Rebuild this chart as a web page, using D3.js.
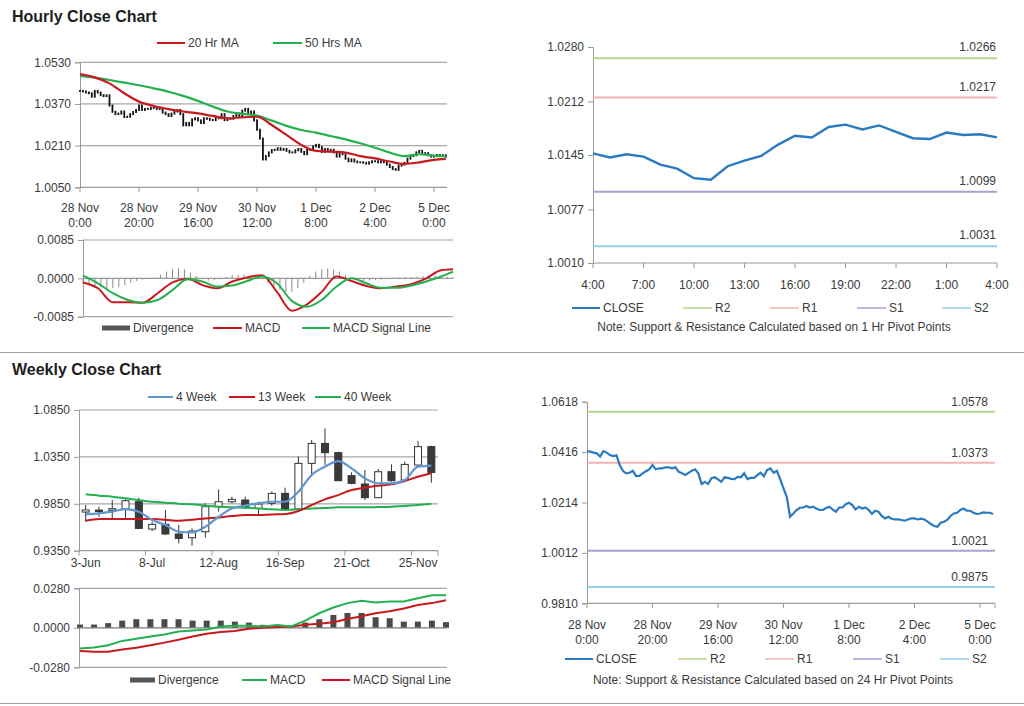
<!DOCTYPE html>
<html><head><meta charset="utf-8">
<script src="https://cdn.jsdelivr.net/npm/d3@7"></script>
<style>body{margin:0;background:#fff}svg{display:block;font-family:"Liberation Sans",Arial,sans-serif}</style>
</head><body><svg id="c" width="1024" height="706"></svg>
<script>
// ---------------- DATA ----------------
// Hourly closes, 28 Nov 0:00 onward (one per hour)
const hourlyClose = [1.0420,1.0418,1.0414,1.0411,1.0398,1.0420,1.0414,1.0404,1.0400,1.0403,
1.0364,1.0340,1.0331,1.0333,1.0341,1.0320,1.0321,1.0331,1.0339,1.0347,
1.0364,1.0347,1.0351,1.0351,1.0355,1.0355,1.0351,1.0355,1.0337,1.0331,
1.0324,1.0333,1.0341,1.0347,1.0331,1.0288,1.0297,1.0288,1.0311,1.0315,
1.0307,1.0297,1.0315,1.0313,1.0309,1.0308,1.0317,1.0315,1.0331,1.0308,
1.0313,1.0313,1.0324,1.0333,1.0319,1.0344,1.0351,1.0333,1.0341,1.0307,
1.0271,1.0237,1.0157,1.0170,1.0184,1.0193,1.0194,1.0200,1.0194,1.0197,
1.0190,1.0184,1.0184,1.0192,1.0197,1.0186,1.0177,1.0194,1.0194,1.0207,
1.0213,1.0204,1.0186,1.0197,1.0190,1.0194,1.0184,1.0168,1.0181,1.0177,
1.0160,1.0150,1.0157,1.0149,1.0146,1.0146,1.0144,1.0141,1.0146,1.0150,
1.0150,1.0146,1.0149,1.0146,1.0137,1.0128,1.0120,1.0117,1.0133,1.0137,
1.0144,1.0160,1.0170,1.0173,1.0184,1.0190,1.0181,1.0181,1.0173,1.0168,
1.0170,1.0174,1.0173,1.0173,1.0168];
const hourTicks = [0,20,40,60,80,100,120];
const hourTickLabels = [["28 Nov","0:00"],["28 Nov","20:00"],["29 Nov","16:00"],["30 Nov","12:00"],["1 Dec","8:00"],["2 Dec","4:00"],["5 Dec","0:00"]];
const hourlyYTicks = [1.0050,1.0210,1.0370,1.0530];

// Moving averages sampled at these hours
const maHours = [0,5,10,15,20,25,30,35,40,45,50,55,60,65,70,75,80,85,90,95,100,105,110,115,120,124];
const ma20 = [1.0485,1.0472,1.0449,1.0411,1.0379,1.0362,1.0350,1.0341,1.0334,1.0324,1.0315,1.0319,1.0321,1.0289,1.0251,1.0213,1.0190,1.0187,1.0183,1.0170,1.0161,1.0149,1.0140,1.0146,1.0155,1.0159];
const ma50 = [1.0478,1.0471,1.0462,1.0452,1.0442,1.0430,1.0417,1.0401,1.0382,1.0360,1.0341,1.0332,1.0325,1.0306,1.0286,1.0270,1.0260,1.0247,1.0234,1.0219,1.0202,1.0183,1.0170,1.0177,1.0172,1.0170];

// Hourly MACD (sampled at maHours)
const hMacd = [-0.0009,-0.0022,-0.0053,-0.0053,-0.0054,-0.0033,-0.0009,-0.0001,-0.0015,-0.0022,-0.0007,0.0002,0.0007,-0.0030,-0.0072,-0.0058,-0.0030,0.0004,-0.0006,-0.0017,-0.0022,-0.0018,-0.0013,0.0000,0.0018,0.0020];
const hSignal = [0.0006,-0.0011,-0.0033,-0.0048,-0.0054,-0.0048,-0.0026,-0.0002,-0.0007,-0.0018,-0.0016,-0.0006,0.0004,-0.0011,-0.0050,-0.0063,-0.0048,-0.0018,0.0000,-0.0011,-0.0021,-0.0021,-0.0016,-0.0007,0.0004,0.0015];
// Divergence every 2 hours
const hDiv = [-0.0012,-0.0015,-0.0017,-0.0020,-0.0022,-0.0022,-0.0020,-0.0015,-0.0010,-0.0006,
-0.0003,-0.0001,0.0002,0.0008,0.0015,0.0020,0.0022,0.0020,0.0012,0.0005,
-0.0002,-0.0005,-0.0004,-0.0002,0.0003,0.0007,0.0008,0.0008,0.0006,0.0003,
-0.0002,-0.0010,-0.0018,-0.0025,-0.0030,-0.0030,-0.0022,-0.0010,0.0005,0.0015,
0.0020,0.0022,0.0020,0.0015,0.0008,0.0002,-0.0004,-0.0006,-0.0005,-0.0004,
-0.0003,-0.0002,0.0001,0.0002,0.0003,0.0003,0.0004,0.0005,0.0006,0.0006,
0.0005,0.0004,0.0003];
const hMacdTicks = [-0.0085,0.0000,0.0085];

// Intraday (1 Hr pivots) closes, 4:00 to 4:00
const intradayClose = [1.0147,1.0142,1.0146,1.0143,1.0133,1.0128,1.0116,1.0114,1.0131,1.0138,1.0144,1.0158,1.0169,1.0167,1.0180,1.0183,1.0177,1.0182,1.0174,1.0166,1.0165,1.0173,1.0170,1.0171,1.0167];
const intradayTicks = [0,3,6,9,12,15,18,21,24];
const intradayTickLabels = ["4:00","7:00","10:00","13:00","16:00","19:00","22:00","1:00","4:00"];
const intradayYTicks = [1.0010,1.0077,1.0145,1.0212,1.0280];
const pivotNames = ["R2","R1","S1","S2"];
const pivot1h = [1.0266,1.0217,1.0099,1.0031];
const pivot24h = [1.0578,1.0373,1.0021,0.9875];
const dailyYTicks = [0.9810,1.0012,1.0214,1.0416,1.0618];

// Weekly
const weeks = ["3-Jun","10-Jun","17-Jun","24-Jun","1-Jul","8-Jul","15-Jul","22-Jul","29-Jul","5-Aug","12-Aug","19-Aug","26-Aug","2-Sep","9-Sep","16-Sep","23-Sep","30-Sep","7-Oct","14-Oct","21-Oct","28-Oct","4-Nov","11-Nov","18-Nov","25-Nov","2-Dec"];
const wOpen  = [0.9762,0.9783,0.9795,0.9794,0.9872,0.9581,0.9631,0.9528,0.9488,0.9552,0.9819,0.9872,0.9890,0.9801,0.9855,0.9961,0.9794,1.0281,1.0494,1.0395,1.0150,1.0061,0.9915,1.0192,1.0103,1.0263,1.0459];
const wHigh  = [0.9837,0.9819,0.9890,0.9908,0.9915,0.9659,0.9783,0.9624,0.9588,0.9855,1.0004,0.9926,0.9926,0.9872,0.9979,1.0022,1.0352,1.0530,1.0654,1.0406,1.0185,1.0210,1.0221,1.0270,1.0299,1.0519,1.0470];
const wLow   = [0.9659,0.9712,0.9677,0.9695,0.9588,0.9560,0.9517,0.9428,0.9403,0.9488,0.9766,0.9855,0.9794,0.9730,0.9830,0.9783,0.9766,1.0139,1.0263,1.0096,1.0057,0.9890,0.9915,1.0086,1.0093,1.0246,1.0075];
const wClose = [0.9784,0.9776,0.9797,0.9883,0.9588,0.9631,0.9528,0.9481,0.9560,0.9819,0.9872,0.9897,0.9808,0.9847,0.9961,0.9794,1.0281,1.0494,1.0395,1.0096,1.0068,0.9915,1.0192,1.0096,1.0270,1.0459,1.0185];
const wk4  = [0.9737,0.9748,0.9766,0.9794,0.9766,0.9677,0.9624,0.9552,0.9545,0.9606,0.9712,0.9801,0.9830,0.9855,0.9872,0.9872,0.9979,1.0157,1.0246,1.0306,1.0228,1.0121,1.0068,1.0068,1.0103,1.0246,1.0256];
const wk13 = [0.9670,0.9688,0.9688,0.9688,0.9688,0.9688,0.9680,0.9670,0.9680,0.9694,0.9705,0.9719,0.9730,0.9730,0.9737,0.9741,0.9773,0.9837,0.9897,0.9943,0.9997,1.0022,1.0043,1.0057,1.0093,1.0139,1.0175];
const wk40 = [0.9951,0.9937,0.9926,0.9908,0.9890,0.9872,0.9862,0.9851,0.9844,0.9830,0.9819,0.9812,0.9808,0.9801,0.9791,0.9783,0.9791,0.9801,0.9805,0.9812,0.9812,0.9812,0.9815,0.9819,0.9826,0.9837,0.9851];
const weeklyYTicks = [0.9350,0.9850,1.0350,1.0850];
const wDiv    = [0.0023,0.0023,0.0033,0.0051,0.0061,0.0061,0.0061,0.0061,0.0051,0.0051,0.0051,0.0044,0.0037,0.0021,0.0021,0.0016,0.0037,0.0061,0.0091,0.0105,0.0105,0.0075,0.0068,0.0044,0.0044,0.0051,0.0040];
const wMacd   = [-0.0147,-0.0140,-0.0124,-0.0093,-0.0077,-0.0061,-0.0047,-0.0026,-0.0019,-0.0012,0.0009,0.0014,0.0014,0.0009,0.0019,0.0009,0.0051,0.0103,0.0144,0.0175,0.0191,0.0179,0.0186,0.0186,0.0210,0.0231,0.0231];
const wSignal = [-0.0165,-0.0170,-0.0170,-0.0154,-0.0142,-0.0124,-0.0105,-0.0084,-0.0061,-0.0042,-0.0030,-0.0023,-0.0007,0.0000,0.0005,0.0009,0.0021,0.0028,0.0040,0.0063,0.0082,0.0103,0.0117,0.0137,0.0161,0.0175,0.0196];
const wMacdTicks = [-0.0280,0.0000,0.0280];

// ---------------- STYLE ----------------
const C = {red:"#c8191e", green:"#25b04f", blue:"#2a7ac0", lblue:"#5f97cf", axis:"#9a9a9a", grid:"#a8a8a8", text:"#3a3a3a",
  R2:"#b7d58f", R1:"#f2b3b3", S1:"#ad9fcf", S2:"#93d0ea", dark:"#404040"};
const pivColors = [C.R2,C.R1,C.S1,C.S2];
const svg = d3.select("#c");
const fmt4 = d => d.toFixed(4);

function title(t, y){ svg.append("text").attr("x",12).attr("y",y).attr("font-size",16).attr("font-weight","bold").attr("fill","#1e1e1e").text(t); }
function sep(y){ svg.append("line").attr("x1",0).attr("x2",1024).attr("y1",y).attr("y2",y).attr("stroke","#a0a0a0"); }
function txt(x,y,t,anchor,size){ return svg.append("text").attr("x",x).attr("y",y).attr("dy","0.35em").attr("text-anchor",anchor||"start").attr("font-size",size||12).attr("fill",C.text).text(t); }
function legLine(x1,x2,y,color,label,w){ svg.append("line").attr("x1",x1).attr("x2",x2).attr("y1",y).attr("y2",y).attr("stroke",color).attr("stroke-width",w||2); txt(x2+3,y,label); }
function legRect(x1,x2,y,color,label){ svg.append("rect").attr("x",x1).attr("y",y-2.5).attr("width",x2-x1).attr("height",5).attr("fill",color); txt(x2+3,y,label); }
function yAxis(y, x0, ticks){
  const g = svg.append("g").attr("transform",`translate(${x0},0)`)
    .call(d3.axisLeft(y).tickValues(ticks).tickFormat(fmt4).tickSizeOuter(0).tickSize(5).tickPadding(4));
  g.select(".domain").attr("stroke",C.axis);
  g.selectAll(".tick line").attr("stroke",C.axis);
  g.selectAll(".tick text").attr("fill",C.text).attr("font-size",12).attr("font-family","Liberation Sans, Arial, sans-serif");
}
function grid(y, vals, x1, x2, color){ vals.forEach(v=>svg.append("line").attr("x1",x1).attr("x2",x2).attr("y1",y(v)).attr("y2",y(v)).attr("stroke",color||C.grid).attr("stroke-width",1.2)); }
function xAxis(x, y0, ticks, labels, r0, r1, twoLine, ly){
  svg.append("line").attr("x1",r0).attr("x2",r1).attr("y1",y0).attr("y2",y0).attr("stroke",C.axis).attr("stroke-width",1.2);
  ticks.forEach((t,i)=>{
    svg.append("line").attr("x1",x(t)).attr("x2",x(t)).attr("y1",y0).attr("y2",y0+5).attr("stroke",C.axis);
    if(labels){
      const lab = labels[i];
      if(twoLine){ txt(x(t),ly,lab[0],"middle"); txt(x(t),ly+15,lab[1],"middle"); }
      else txt(x(t),ly,lab,"middle");
    }
  });
}

// ---------------- HOURLY CLOSE CHART ----------------
title("Hourly Close Chart", 22);
legLine(157,185,43,C.red,"20 Hr MA");
legLine(273,302,43,C.green,"50 Hrs MA");
{
  const x = d3.scaleLinear().domain([0,124.4]).range([80,447]);
  const y = d3.scaleLinear().domain([1.0050,1.0530]).range([187.3,62.3]);
  grid(y,[1.0210,1.0370,1.0530],80,447);
  xAxis(x, y(1.0050), hourTicks, hourTickLabels, 80, 447, true, 208);
  yAxis(y, 80, hourlyYTicks);
  // candles: open = previous close
  svg.append("g").selectAll("rect").data(hourlyClose).join("rect")
    .attr("x",(d,i)=>x(i)-0.9).attr("width",1.8)
    .attr("y",(d,i)=>y(Math.max(d, i? hourlyClose[i-1]:d))-1)
    .attr("height",(d,i)=>Math.abs(y(d)-y(i? hourlyClose[i-1]:d))+2)
    .attr("fill","#111");
  const ln = d3.line().x((d,i)=>x(maHours[i])).y(d=>y(d)).curve(d3.curveMonotoneX);
  svg.append("path").attr("d",ln(ma50)).attr("fill","none").attr("stroke",C.green).attr("stroke-width",2.2);
  svg.append("path").attr("d",ln(ma20)).attr("fill","none").attr("stroke",C.red).attr("stroke-width",2.2);
}
// Hourly MACD
{
  const x = d3.scaleLinear().domain([0,124]).range([83,453]);
  const y = d3.scaleLinear().domain([-0.0085,0.0085]).range([316.7,240]);
  grid(y,[-0.0085,0.0085],83,453);
  grid(y,[0],83,453,"#9a9a9a");
  yAxis(y, 83, hMacdTicks);
  svg.append("g").selectAll("line").data(hDiv).join("line")
    .attr("x1",(d,i)=>x(i*2)).attr("x2",(d,i)=>x(i*2)).attr("y1",y(0)).attr("y2",d=>y(d))
    .attr("stroke","#8a8a8a").attr("stroke-width",1);
  const ln = d3.line().x((d,i)=>x(maHours[i])).y(d=>y(d)).curve(d3.curveMonotoneX);
  svg.append("path").attr("d",ln(hMacd)).attr("fill","none").attr("stroke",C.red).attr("stroke-width",2);
  svg.append("path").attr("d",ln(hSignal)).attr("fill","none").attr("stroke",C.green).attr("stroke-width",2);
  legRect(102,130,328,"#555","Divergence");
  legLine(213,242,328,C.red,"MACD");
  legLine(302,330,328,C.green,"MACD Signal Line");
}
// Intraday pivots (1 Hr)
{
  const x = d3.scaleLinear().domain([0,24]).range([593,997]);
  const y = d3.scaleLinear().domain([1.0010,1.0280]).range([263,47]);
  xAxis(x, 263, intradayTicks, intradayTickLabels, 593, 997, false, 285);
  yAxis(y, 593, intradayYTicks);
  pivot1h.forEach((v,i)=>{
    svg.append("line").attr("x1",593).attr("x2",997).attr("y1",y(v)).attr("y2",y(v)).attr("stroke",pivColors[i]).attr("stroke-width",2);
    txt(996,y(v)-11,fmt4(v),"end");
  });
  svg.append("path").attr("d",d3.line().x((d,i)=>x(i)).y(d=>y(d))(intradayClose)).attr("fill","none").attr("stroke",C.blue).attr("stroke-width",2.4);
  legLine(572,600,308,C.blue,"CLOSE");
  ["R2","R1","S1","S2"].forEach((n,i)=>{ const xs=[683,770,857,942][i]; legLine(xs,xs+29,308,pivColors[i],n,1.5); });
  txt(774,327,"Note: Support & Resistance Calculated based on 1 Hr Pivot Points","middle");
}

sep(352.5);

// ---------------- WEEKLY CLOSE CHART ----------------
title("Weekly Close Chart", 375);
legLine(148,173,397,C.lblue,"4 Week");
legLine(229,255,397,C.red,"13 Week");
legLine(315,341,397,C.green,"40 Week");
{
  const x = d3.scalePoint().domain(weeks).range([79,438]).padding(0.5);
  const y = d3.scaleLinear().domain([0.9350,1.0850]).range([550.7,410]);
  grid(y,[0.9850,1.0350,1.0850],79,438);
  const step = x.step();
  svg.append("line").attr("x1",79).attr("x2",438).attr("y1",y(0.935)).attr("y2",y(0.935)).attr("stroke",C.axis).attr("stroke-width",1.2);
  weeks.forEach((w,i)=>{ if(i%5===0){ svg.append("line").attr("x1",x(w)-step/2).attr("x2",x(w)-step/2).attr("y1",y(0.935)).attr("y2",y(0.935)+5).attr("stroke",C.axis); txt(x(w),563,w,"middle"); } });
  svg.append("line").attr("x1",438).attr("x2",438).attr("y1",y(0.935)).attr("y2",y(0.935)+5).attr("stroke",C.axis);
  yAxis(y, 79, weeklyYTicks);
  const g = svg.append("g");
  weeks.forEach((w,i)=>{
    const cx = x(w);
    g.append("line").attr("x1",cx).attr("x2",cx).attr("y1",y(wHigh[i])).attr("y2",y(wLow[i])).attr("stroke","#333").attr("stroke-width",1);
    const top = Math.max(wOpen[i],wClose[i]), bot = Math.min(wOpen[i],wClose[i]);
    g.append("rect").attr("x",cx-3.5).attr("width",7).attr("y",y(top)).attr("height",Math.max(1.5,y(bot)-y(top)))
      .attr("fill", wClose[i]>=wOpen[i] ? "#fff" : "#3a3a3a").attr("stroke","#333").attr("stroke-width",1);
  });
  const ln = d3.line().x((d,i)=>x(weeks[i])).y(d=>y(d)).curve(d3.curveMonotoneX);
  svg.append("path").attr("d",ln(wk40)).attr("fill","none").attr("stroke",C.green).attr("stroke-width",2);
  svg.append("path").attr("d",ln(wk13)).attr("fill","none").attr("stroke",C.red).attr("stroke-width",2);
  svg.append("path").attr("d",ln(wk4)).attr("fill","none").attr("stroke",C.lblue).attr("stroke-width",2.2);
}
// Weekly MACD
{
  const x = d3.scalePoint().domain(weeks).range([80,446]);
  const y = d3.scaleLinear().domain([-0.0280,0.0280]).range([667.3,588.3]);
  grid(y,[-0.0280,0.0280],79,447);
  yAxis(y, 79, wMacdTicks);
  svg.append("g").selectAll("rect").data(wDiv).join("rect")
    .attr("x",(d,i)=>x(weeks[i])-3).attr("width",6).attr("y",d=>y(d)).attr("height",d=>y(0)-y(d)).attr("fill","#4a4a4a");
  grid(y,[0],79,447,"#777");
  const ln = d3.line().x((d,i)=>x(weeks[i])).y(d=>y(d));
  svg.append("path").attr("d",ln(wSignal)).attr("fill","none").attr("stroke",C.red).attr("stroke-width",2);
  svg.append("path").attr("d",ln(wMacd)).attr("fill","none").attr("stroke",C.green).attr("stroke-width",2);
  legRect(130,155,680,"#555","Divergence");
  legLine(242,267,680,C.green,"MACD");
  legLine(322,350,680,C.red,"MACD Signal Line");
}
// Daily pivots (24 Hr)
{
  const x = d3.scaleLinear().domain([0,120]).range([587,980]);
  const y = d3.scaleLinear().domain([0.9810,1.0618]).range([603.3,401.7]);
  xAxis(x, 603.3, hourTicks, hourTickLabels, 587, 995, true, 625);
  svg.append("line").attr("x1",995).attr("x2",995).attr("y1",603.3).attr("y2",608).attr("stroke",C.axis);
  yAxis(y, 587, dailyYTicks);
  pivot24h.forEach((v,i)=>{
    svg.append("line").attr("x1",587).attr("x2",995).attr("y1",y(v)).attr("y2",y(v)).attr("stroke",pivColors[i]).attr("stroke-width",2);
    txt(988,y(v)-10,fmt4(v),"end");
  });
  svg.append("path").attr("d",d3.line().x((d,i)=>x(i)).y(d=>y(d))(hourlyClose)).attr("fill","none").attr("stroke",C.blue).attr("stroke-width",2.2);
  legLine(565,593,659,C.blue,"CLOSE");
  ["R2","R1","S1","S2"].forEach((n,i)=>{ const xs=[678,765,853,940][i]; legLine(xs,xs+29,659,pivColors[i],n,1.5); });
  txt(773,680,"Note: Support & Resistance Calculated based on 24 Hr Pivot Points","middle");
}
sep(703.5);
</script></body></html>
